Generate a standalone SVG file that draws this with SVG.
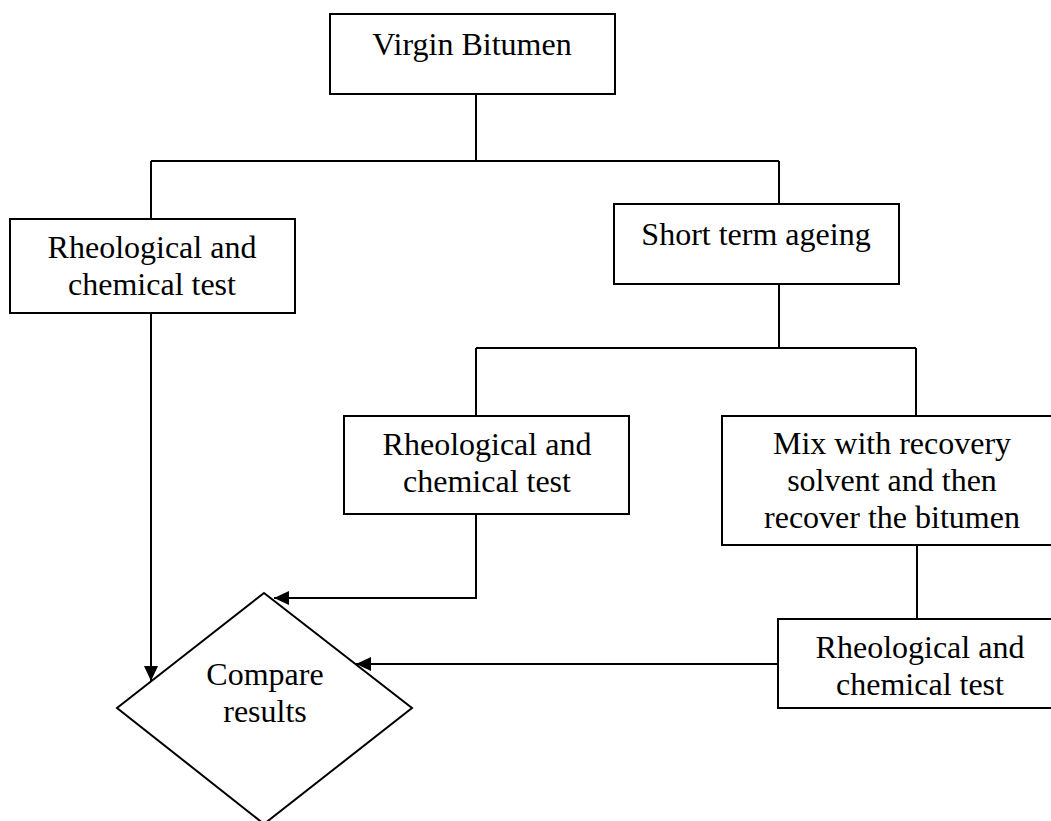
<svg xmlns="http://www.w3.org/2000/svg" width="1051" height="821" viewBox="0 0 1051 821">
  <defs>
    <style>
      .box { fill: #ffffff; stroke: #000000; stroke-width: 2; }
      .conn { fill: none; stroke: #000000; stroke-width: 2; }
      .lbl { font-family: "Liberation Serif", "Times New Roman", serif; font-size: 32px; fill: #000000; text-anchor: middle; }
    </style>
    <marker id="arrow" markerUnits="userSpaceOnUse" markerWidth="16" markerHeight="14" refX="15" refY="7" orient="auto">
      <path d="M0,0 L15,7 L0,14 Z" fill="#000000"/>
    </marker>
  </defs>
  <rect x="0" y="0" width="1051" height="821" fill="#ffffff"/>

  <g id="connectors">
    <path class="conn" d="M476,94 V161"/>
    <path class="conn" d="M151,161 H779"/>
    <path class="conn" d="M151,161 V219"/>
    <path class="conn" d="M779,161 V204"/>
    <path class="conn" d="M779,284 V348"/>
    <path class="conn" d="M476,348 H916"/>
    <path class="conn" d="M476,348 V416"/>
    <path class="conn" d="M916,348 V416"/>
    <path class="conn" d="M917,545 V619"/>
    <path class="conn" d="M151,313 V681" marker-end="url(#arrow)"/>
    <path class="conn" d="M476,514 V598 H274" marker-end="url(#arrow)"/>
    <path class="conn" d="M778,664 H356" marker-end="url(#arrow)"/>
  </g>

  <g id="node-virgin">
    <rect class="box" x="330" y="14" width="285" height="80"/>
    <text class="lbl" x="472" y="55">Virgin Bitumen</text>
  </g>

  <g id="node-rheo1">
    <rect class="box" x="10" y="219" width="285" height="94"/>
    <text class="lbl" x="152" y="258">Rheological and</text>
    <text class="lbl" x="152" y="295">chemical test</text>
  </g>

  <g id="node-short">
    <rect class="box" x="614" y="204" width="285" height="80"/>
    <text class="lbl" x="756" y="245">Short term ageing</text>
  </g>

  <g id="node-rheo2">
    <rect class="box" x="344" y="416" width="285" height="98"/>
    <text class="lbl" x="487" y="455">Rheological and</text>
    <text class="lbl" x="487" y="492">chemical test</text>
  </g>

  <g id="node-mix">
    <rect class="box" x="722" y="416" width="340" height="129"/>
    <text class="lbl" x="892" y="454">Mix with recovery</text>
    <text class="lbl" x="892" y="491">solvent and then</text>
    <text class="lbl" x="892" y="528">recover the bitumen</text>
  </g>

  <g id="node-rheo3">
    <rect class="box" x="778" y="619" width="284" height="89"/>
    <text class="lbl" x="920" y="658">Rheological and</text>
    <text class="lbl" x="920" y="695">chemical test</text>
  </g>

  <g id="node-compare">
    <polygon class="box" points="264,593 412,708 264,824 117,708"/>
    <text class="lbl" x="265" y="685">Compare</text>
    <text class="lbl" x="265" y="722">results</text>
  </g>
</svg>
